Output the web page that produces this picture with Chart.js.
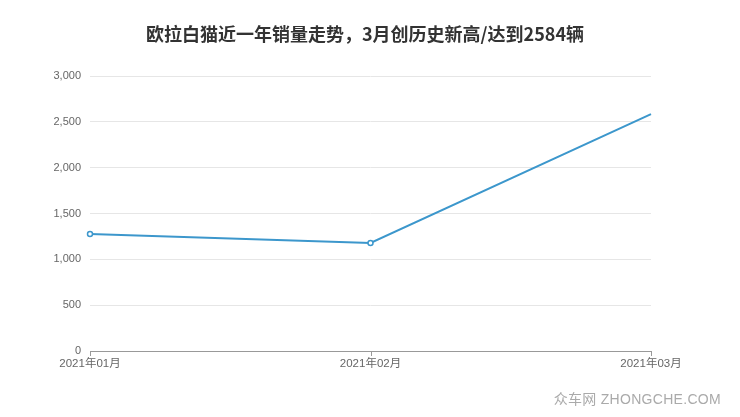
<!DOCTYPE html>
<html>
<head>
<meta charset="utf-8">
<script src="https://cdn.jsdelivr.net/npm/chart.js@4/dist/chart.umd.min.js"></script>
<style>
  html, body { margin: 0; padding: 0; background: #fff; }
  #wrap { position: relative; width: 740px; height: 417px; }
  #title {
    position: absolute; left: 0; width: 730px; top: 21px;
    text-align: center;
    font: bold 18px "Noto Sans CJK SC", sans-serif;
    line-height: 24px;
    color: #333;
  }
  #mark {
    position: absolute; right: 19px; top: 389px;
    font: 14px "Liberation Sans", "Noto Sans CJK SC", sans-serif;
    line-height: 20px;
    color: #aaa; letter-spacing: 0.3px;
  }
</style>
</head>
<body>
<div id="wrap">
  <canvas id="chart" width="740" height="417"></canvas>
  <div id="title">欧拉白猫近一年销量走势，3月创历史新高/达到2584辆</div>
  <div id="mark">众车网 ZHONGCHE.COM</div>
</div>
<script>
const months = ["2021年01月", "2021年02月", "2021年03月"];
const sales = [1276, 1178, 2584];
const yTicks = [0, 500, 1000, 1500, 2000, 2500, 3000];

const FONT = "'Liberation Sans', 'Noto Sans CJK SC', sans-serif";

new Chart(document.getElementById("chart"), {
  type: "line",
  data: {
    labels: months,
    datasets: [{
      label: "销量",
      data: sales,
      borderColor: "#3c97cc",
      borderWidth: 2,
      backgroundColor: "#fff",
      pointBorderColor: "#3c97cc",
      pointBorderWidth: 1.5,
      pointRadius: [2.5, 2.5, 0],
      tension: 0,
      fill: false,
    }],
  },
  options: {
    responsive: false,
    animation: false,
    layout: { padding: { left: 0, right: 89, top: 76, bottom: 0 } },
    plugins: {
      legend: { display: false },
      tooltip: { enabled: false },
      title: { display: false },
    },
    scales: {
      x: {
        offset: false,
        afterFit: (scale) => { scale.height = 66; },
        grid: { display: false, drawTicks: false },
        border: { display: true, color: "#999", width: 1 },
        ticks: {
          color: "#666",
          padding: 6,
          maxRotation: 0,
          font: { family: FONT, size: 11.5 },
        },
      },
      y: {
        min: 0,
        max: 3000,
        afterFit: (scale) => { scale.width = 90; },
        afterBuildTicks: (scale) => { scale.ticks = yTicks.map((v) => ({ value: v })); },
        grid: { color: "#e6e6e6", drawTicks: false },
        border: { display: false },
        ticks: {
          color: "#666",
          padding: 9,
          font: { family: FONT, size: 11 },
          callback: (v) => v.toLocaleString("en-US"),
        },
      },
    },
  },
  plugins: [{
    id: "xTickMarks",
    afterDraw(chart) {
      const { ctx, scales: { x }, chartArea } = chart;
      ctx.save();
      ctx.strokeStyle = "#999";
      ctx.lineWidth = 1;
      months.forEach((m, i) => {
        const px = Math.round(x.getPixelForValue(i)) + 0.5;
        ctx.beginPath();
        ctx.moveTo(px, chartArea.bottom);
        ctx.lineTo(px, chartArea.bottom + 5);
        ctx.stroke();
      });
      ctx.restore();
    },
  }],
});
</script>
</body>
</html>
